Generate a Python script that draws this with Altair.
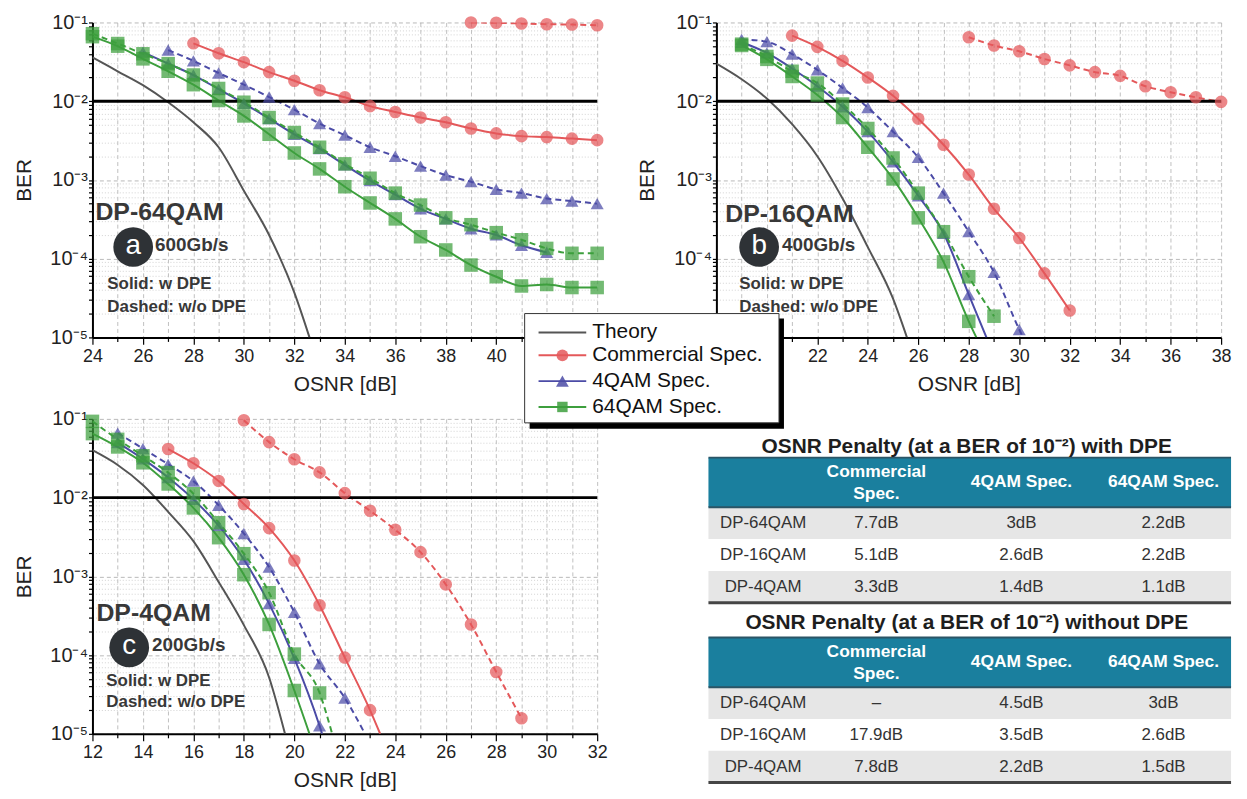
import altair as alt
import pandas as pd

FONT = "Liberation Sans"
SERIES = ["Theory", "Commercial Spec.", "4QAM Spec.", "64QAM Spec."]
COLORS = ["#555555", "#e4585a", "#4b4ba6", "#3d9f3d"]
SHAPES = ["circle", "triangle-up", "square"]
SIZES = [160, 185, 130]

# ---------------- Panel a : DP-64QAM ----------------
A_THEORY_X = [24, 25, 26, 27, 28, 29, 30, 31, 32, 32.6]
A_THEORY_Y = [0.036, 0.024, 0.016, 0.0097, 0.0054, 0.0026, 0.00073, 0.0002, 0.000037, 0.00001]
A_COM_W_X = list(range(28, 45))
A_COM_W_Y = [0.0543, 0.0407, 0.0313, 0.0234, 0.0182, 0.0138, 0.0112, 0.00865, 0.0073, 0.0062,
             0.0054, 0.0045, 0.0039, 0.0036, 0.0035, 0.00335, 0.0032]
A_COM_WO_X = list(range(39, 45))
A_COM_WO_Y = [0.100, 0.099, 0.097, 0.095, 0.094, 0.092]
A_4Q_W_X = list(range(26, 43))
A_4Q_W_Y = [0.042, 0.0300, 0.0215, 0.0142, 0.0094, 0.0060, 0.0038, 0.0025, 0.00155, 0.00098,
            0.00065, 0.00043, 0.00032, 0.00024, 0.00020, 0.000148, 0.00012]
A_4Q_WO_X = list(range(27, 45))
A_4Q_WO_Y = [0.0447, 0.0325, 0.0228, 0.0162, 0.0113, 0.0078, 0.0052, 0.0037, 0.0026, 0.0020,
             0.0015, 0.00115, 0.00095, 0.00076, 0.00068, 0.00058, 0.00054, 0.00050]
A_64Q_W_X = list(range(24, 45))
A_64Q_W_Y = [0.066, 0.050, 0.0345, 0.024, 0.0162, 0.0102, 0.0065, 0.0038, 0.0022, 0.00138,
             0.00082, 0.00051, 0.00032, 0.00019, 0.000129, 0.000083, 0.000059, 0.000045,
             0.000047, 0.000043, 0.000043]
A_64Q_WO_X = list(range(24, 45))
A_64Q_WO_Y = [0.072, 0.054, 0.040, 0.030, 0.0215, 0.0145, 0.0097, 0.0062, 0.0040, 0.0026,
              0.0016, 0.00105, 0.00068, 0.00048, 0.00033, 0.00027, 0.000214, 0.000174,
              0.000135, 0.000117, 0.000117]

# ---------------- Panel b : DP-16QAM ----------------
B_THEORY_X = [18, 19, 20, 21, 22, 23, 24, 25, 25.55]
B_THEORY_Y = [0.030, 0.019, 0.0108, 0.0051, 0.0020, 0.00058, 0.00014, 0.000031, 0.00001]
B_COM_W_X = list(range(21, 33))
B_COM_W_Y = [0.068, 0.049, 0.0325, 0.0200, 0.0117, 0.0060, 0.0028, 0.00117, 0.00043, 0.000183,
             0.000065, 0.000022]
B_COM_WO_X = list(range(28, 39))
B_COM_WO_Y = [0.065, 0.051, 0.043, 0.0344, 0.0285, 0.0234, 0.0210, 0.0155, 0.0130, 0.0112, 0.0098]
B_4Q_W_X = list(range(19, 29))
B_4Q_W_Y = [0.056, 0.041, 0.026, 0.0155, 0.0085, 0.0041, 0.0017, 0.00063, 0.00021, 0.000035]
B_4Q_W_END = (28.7, 0.00001)
B_4Q_WO_X = list(range(19, 31))
B_4Q_WO_Y = [0.061, 0.057, 0.0395, 0.025, 0.0147, 0.0083, 0.0041, 0.00193, 0.00068, 0.00022,
             0.000067, 0.0000126]
B_4Q_WO_END = (30.15, 0.00001)
B_64Q_W_X = list(range(19, 29))
B_64Q_W_Y = [0.051, 0.034, 0.0206, 0.0120, 0.0062, 0.0026, 0.00103, 0.00033, 0.000091, 0.000016]
B_64Q_W_END = (28.3, 0.00001)
B_64Q_WO_X = list(range(19, 30))
B_64Q_WO_Y = [0.053, 0.037, 0.024, 0.017, 0.0092, 0.0045, 0.0019, 0.00068, 0.00022, 0.000059,
              0.0000186]

# ---------------- Panel c : DP-4QAM ----------------
C_THEORY_X = [12, 13, 14, 15, 16, 17, 18, 19, 19.63]
C_THEORY_Y = [0.040, 0.026, 0.0145, 0.0066, 0.0028, 0.00085, 0.00024, 0.000052, 0.00001]
C_COM_W_X = list(range(15, 24))
C_COM_W_Y = [0.0414, 0.0273, 0.0163, 0.0083, 0.0041, 0.00159, 0.00043, 0.000093, 0.00002]
C_COM_W_END = (23.4, 0.00001)
C_COM_WO_X = list(range(18, 30))
C_COM_WO_Y = [0.096, 0.0507, 0.0307, 0.0209, 0.0114, 0.0068, 0.0039, 0.00203, 0.00079, 0.000245,
              0.000061, 0.0000158]
C_4Q_W_X = list(range(13, 22))
C_4Q_W_Y = [0.050, 0.031, 0.018, 0.0095, 0.0044, 0.00164, 0.00045, 0.000091, 0.0000126]
C_4Q_W_END = (21.1, 0.00001)
C_4Q_WO_X = list(range(13, 23))
C_4Q_WO_Y = [0.066, 0.042, 0.0265, 0.0162, 0.0080, 0.0035, 0.00131, 0.00035, 0.0000776, 0.0000285]
C_4Q_WO_END = (22.8, 0.00001)
C_64Q_W_X = list(range(12, 21))
C_64Q_W_Y = [0.065, 0.044, 0.0277, 0.0149, 0.0074, 0.0031, 0.00105, 0.000245, 0.0000355]
C_64Q_W_END = (20.6, 0.00001)
C_64Q_WO_X = list(range(12, 22))
C_64Q_WO_Y = [0.093, 0.055, 0.034, 0.0208, 0.0112, 0.0048, 0.00194, 0.00062, 0.000103, 0.000033]
C_64Q_WO_END = (21.5, 0.00001)

# ---------------- Tables ----------------
TABLE_TITLES = ["OSNR Penalty (at a BER of 10\u207b\u00b2) with DPE",
                "OSNR Penalty (at a BER of 10\u207b\u00b2) without DPE"]
TABLE_HEADER = ["", "Commercial\nSpec.", "4QAM Spec.", "64QAM Spec."]
TABLE_ROWS = ["DP-64QAM", "DP-16QAM", "DP-4QAM"]
WITH_DPE = [["7.7dB", "3dB", "2.2dB"], ["5.1dB", "2.6dB", "2.2dB"], ["3.3dB", "1.4dB", "1.1dB"]]
WITHOUT_DPE = [["\u2013", "4.5dB", "3dB"], ["17.9dB", "3.5dB", "2.6dB"], ["7.8dB", "2.2dB", "1.5dB"]]

PW, PH = 508, 317
ONE = pd.DataFrame({"k": [0]})


def y_enc():
    major = "abs(log(datum.value)/LN10 - round(log(datum.value)/LN10)) < 0.01"
    vals = [k * 10.0 ** e for e in range(-5, -1) for k in range(1, 10)] + [0.1]
    return alt.Y(
        "ber:Q", title="BER",
        scale=alt.Scale(type="log", domain=[1e-5, 1e-1], nice=False),
        axis=alt.Axis(
            values=vals,
            labelExpr=(major + " ? '10\u207b' + ['\u2070','\u00b9','\u00b2','\u00b3','\u2074','\u2075']"
                       "[-round(log(datum.value)/LN10)] : ''"),
            tickSize=4, tickColor="black", tickWidth=1.2,
            domainColor="black", domainWidth=2,
            grid=True,
            gridDash={"condition": {"test": major, "value": [4, 3]}, "value": [1, 2]},
            gridColor={"condition": {"test": major, "value": "#a8a8a8"}, "value": "#c8c8c8"},
            gridWidth=0.8,
            labelFont=FONT, labelFontSize=20, labelColor="#222", labelPadding=1,
            labelOverlap=False, labelFlush=False,
            titleFont=FONT, titleFontSize=21, titleFontWeight="normal", titleColor="#222",
            titlePadding=16,
        ),
    )


def x_enc(xdom):
    return alt.X(
        "x:Q", title="OSNR [dB]",
        scale=alt.Scale(domain=list(xdom), nice=False, zero=False),
        axis=alt.Axis(
            values=list(range(xdom[0], xdom[1] + 1)),
            labelExpr="datum.value % 2 == 0 ? datum.label : ''",
            tickSize={"condition": {"test": "datum.value % 2 == 0", "value": 7}, "value": 4},
            tickColor="black", tickWidth=1.2,
            domainColor="black", domainWidth=2,
            grid=True, gridDash=[4, 3], gridColor="#b0b0b0", gridWidth=0.8,
            labelFont=FONT, labelFontSize=18, labelColor="#222", labelPadding=3,
            labelOverlap=False, labelFlush=False,
            titleFont=FONT, titleFontSize=21, titleFontWeight="normal", titleColor="#222",
            titlePadding=8,
        ),
    )


def panel(xdom, theory, series, ann, with_legend=False):
    line_rows, mark_rows = [], []
    for x, b in zip(*theory):
        line_rows.append(dict(x=x, ber=b, series="Theory", dpe="w", key="Theory"))
    for ser, dpe, xs, ys, end in series:
        key = ser + dpe
        for x, b in zip(xs, ys):
            line_rows.append(dict(x=x, ber=b, series=ser, dpe=dpe, key=key))
            mark_rows.append(dict(x=x, ber=b, series=ser, dpe=dpe, key=key))
        if end is not None:
            line_rows.append(dict(x=end[0], ber=end[1], series=ser, dpe=dpe, key=key))
    ldf = pd.DataFrame(line_rows)
    mdf = pd.DataFrame(mark_rows)
    X, Y = x_enc(xdom), y_enc()
    color = alt.Color("series:N", scale=alt.Scale(domain=SERIES, range=COLORS), legend=None)

    layers = []
    layers.append(alt.Chart(ldf).mark_line(strokeWidth=2, interpolate="monotone", clip=True)
                  .transform_filter("datum.dpe == 'w'")
                  .encode(x=X, y=Y, color=color, detail="key:N", order="x:Q"))
    layers.append(alt.Chart(ldf).mark_line(strokeWidth=2, interpolate="monotone", clip=True,
                                           strokeDash=[6, 4])
                  .transform_filter("datum.dpe == 'wo'")
                  .encode(x=X, y=Y, color=color, detail="key:N", order="x:Q"))
    layers.append(alt.Chart(pd.DataFrame({"ber": [0.01]})).mark_rule(color="black", strokeWidth=3)
                  .encode(y=Y))
    layers.append(alt.Chart(mdf).mark_point(filled=True, opacity=0.72, strokeWidth=0)
                  .encode(x=X, y=Y, color=color,
                          shape=alt.Shape("series:N", scale=alt.Scale(domain=SERIES[1:], range=SHAPES),
                                          legend=None),
                          size=alt.Size("series:N", scale=alt.Scale(domain=SERIES[1:], range=SIZES),
                                        legend=None)))

    def txt(s, xy, size, color="#383838", weight="bold", align="left"):
        return (alt.Chart(ONE)
                .mark_text(align=align, baseline="middle", font=FONT, fontSize=size,
                           fontWeight=weight, color=color)
                .encode(x=alt.value(xy[0]), y=alt.value(xy[1]), text=alt.value(s)))

    layers.append(txt(ann["name"], ann["name_xy"], 25))
    layers.append(alt.Chart(ONE).mark_point(filled=True, shape="circle", size=1600, color="#2e3236",
                                             opacity=1)
                  .encode(x=alt.value(ann["circ_xy"][0]), y=alt.value(ann["circ_xy"][1])))
    layers.append(txt(ann["letter"], (ann["circ_xy"][0], ann["circ_xy"][1] - 1), 28, color="white",
                      weight="normal", align="center"))
    layers.append(txt(ann["rate"], ann["rate_xy"], 19))
    layers.append(txt("Solid: w DPE", ann["solid_xy"], 17))
    layers.append(txt("Dashed: w/o DPE", ann["dash_xy"], 17))

    if with_legend:
        bx0, bx1, by0, by1 = 435, 691, -106, 4
        layers.append(alt.Chart(ONE).mark_rect(color="black")
                      .encode(x=alt.value(bx0 + 5), x2=alt.value(bx1 + 5),
                              y=alt.value(by0 + 5), y2=alt.value(by1 + 6)))
        layers.append(alt.Chart(ONE).mark_rect(color="white", stroke="#333", strokeWidth=1)
                      .encode(x=alt.value(bx0), x2=alt.value(bx1), y=alt.value(by0), y2=alt.value(by1)))
        rows_y = [-87, -64, -38, -12]
        for i, name in enumerate(SERIES):
            ry = rows_y[i]
            layers.append(alt.Chart(ONE).mark_rule(color=COLORS[i], strokeWidth=2)
                          .encode(x=alt.value(449), x2=alt.value(497), y=alt.value(ry)))
            if i > 0:
                layers.append(alt.Chart(ONE).mark_point(filled=True, shape=SHAPES[i - 1],
                                                         size=SIZES[i - 1] - 20,
                                                         color=COLORS[i], opacity=0.85, strokeWidth=0)
                              .encode(x=alt.value(473), y=alt.value(ry)))
            layers.append(txt(name, (503, ry), 21, color="#111", weight="normal"))

    return alt.layer(*layers).properties(width=PW, height=PH)


pa = panel((24, 44), (A_THEORY_X, A_THEORY_Y), [
    ("Commercial Spec.", "w", A_COM_W_X, A_COM_W_Y, None),
    ("Commercial Spec.", "wo", A_COM_WO_X, A_COM_WO_Y, None),
    ("4QAM Spec.", "w", A_4Q_W_X, A_4Q_W_Y, None),
    ("4QAM Spec.", "wo", A_4Q_WO_X, A_4Q_WO_Y, None),
    ("64QAM Spec.", "w", A_64Q_W_X, A_64Q_W_Y, None),
    ("64QAM Spec.", "wo", A_64Q_WO_X, A_64Q_WO_Y, None),
], dict(name="DP-64QAM", letter="a", rate="600Gb/s", name_xy=(3, 191), circ_xy=(41, 226),
        rate_xy=(63, 224), solid_xy=(15, 263), dash_xy=(15, 286)))

pb = panel((18, 38), (B_THEORY_X, B_THEORY_Y), [
    ("Commercial Spec.", "w", B_COM_W_X, B_COM_W_Y, None),
    ("Commercial Spec.", "wo", B_COM_WO_X, B_COM_WO_Y, None),
    ("4QAM Spec.", "w", B_4Q_W_X, B_4Q_W_Y, B_4Q_W_END),
    ("4QAM Spec.", "wo", B_4Q_WO_X, B_4Q_WO_Y, B_4Q_WO_END),
    ("64QAM Spec.", "w", B_64Q_W_X, B_64Q_W_Y, B_64Q_W_END),
    ("64QAM Spec.", "wo", B_64Q_WO_X, B_64Q_WO_Y, None),
], dict(name="DP-16QAM", letter="b", rate="400Gb/s", name_xy=(9, 193), circ_xy=(43, 226),
        rate_xy=(66, 224), solid_xy=(23, 263), dash_xy=(23, 286)))

pc = panel((12, 32), (C_THEORY_X, C_THEORY_Y), [
    ("Commercial Spec.", "w", C_COM_W_X, C_COM_W_Y, C_COM_W_END),
    ("Commercial Spec.", "wo", C_COM_WO_X, C_COM_WO_Y, None),
    ("4QAM Spec.", "w", C_4Q_W_X, C_4Q_W_Y, C_4Q_W_END),
    ("4QAM Spec.", "wo", C_4Q_WO_X, C_4Q_WO_Y, C_4Q_WO_END),
    ("64QAM Spec.", "w", C_64Q_W_X, C_64Q_W_Y, C_64Q_W_END),
    ("64QAM Spec.", "wo", C_64Q_WO_X, C_64Q_WO_Y, C_64Q_WO_END),
], dict(name="DP-4QAM", letter="c", rate="200Gb/s", name_xy=(4, 195), circ_xy=(37, 230),
        rate_xy=(60, 228), solid_xy=(14, 264), dash_xy=(14, 285)), with_legend=True)

# ---------------- Table chart ----------------
TW, TH = 526, 371
TLEFT = 8  # the table begins this far left of panel b's column
COL_X = [55, 169, 315, 458]
BLOCK_TOP = [0, 181]
rects, texts_body, texts_head, texts_title, lines_thin, lines_thick = [], [], [], [], [], []
for bi, (title, vals) in enumerate(zip(TABLE_TITLES, [WITH_DPE, WITHOUT_DPE])):
    top = BLOCK_TOP[bi]
    texts_title.append(dict(x=TW / 2 - 3, y=top + (28 if bi == 0 else 24), t=title))
    rects.append(dict(x0=0, x1=TW, y0=top + 39, y1=top + 89, fill="#1a7f9e"))
    lines_thin.append(dict(x0=0, x1=TW, y=top + 39))
    lines_thin.append(dict(x0=0, x1=TW, y=top + 89))
    for ci, h in enumerate(TABLE_HEADER):
        texts_head.append(dict(x=COL_X[ci], y=top + (54 if "\n" in h else 64), t=h))
    for ri, rname in enumerate(TABLE_ROWS):
        y0 = top + 89 + 32 * ri
        rects.append(dict(x0=0, x1=TW, y0=y0, y1=y0 + 32, fill="#e6e6e6" if ri % 2 == 0 else "#ffffff"))
        cells = [rname] + vals[ri]
        for ci, c in enumerate(cells):
            texts_body.append(dict(x=COL_X[ci], y=y0 + 16, t=c))
    lines_thick.append(dict(x0=0, x1=TW, y=top + 185))

TXS = alt.Scale(domain=[TLEFT, TW + TLEFT], nice=False, zero=False)
TYS = alt.Scale(domain=[0, TH], nice=False, zero=False, reverse=True)
tx = lambda f: alt.X(f, scale=TXS, axis=None)
ty = lambda f: alt.Y(f, scale=TYS, axis=None)

table = alt.layer(
    alt.Chart(pd.DataFrame(rects)).mark_rect().encode(
        x=tx("x0:Q"), x2="x1:Q", y=ty("y0:Q"), y2="y1:Q", color=alt.Color("fill:N", scale=None)),
    alt.Chart(pd.DataFrame(lines_thin)).mark_rule(color="#2b5566", strokeWidth=2).encode(
        x=tx("x0:Q"), x2="x1:Q", y=ty("y:Q")),
    alt.Chart(pd.DataFrame(lines_thick)).mark_rule(color="#454545", strokeWidth=3).encode(
        x=tx("x0:Q"), x2="x1:Q", y=ty("y:Q")),
    alt.Chart(pd.DataFrame(texts_title)).mark_text(font=FONT, fontSize=21, fontWeight="bold",
                                                     color="#1e1e1e", baseline="middle").encode(
        x=tx("x:Q"), y=ty("y:Q"), text="t:N"),
    alt.Chart(pd.DataFrame(texts_head)).mark_text(font=FONT, fontSize=17.5, fontWeight="bold",
                                                    color="white", baseline="middle", lineBreak="\n",
                                                    lineHeight=22).encode(
        x=tx("x:Q"), y=ty("y:Q"), text="t:N"),
    alt.Chart(pd.DataFrame(texts_body)).mark_text(font=FONT, fontSize=17, color="#333",
                                                    baseline="middle").encode(
        x=tx("x:Q"), y=ty("y:Q"), text="t:N"),
).properties(width=TW, height=TH)

chart = (alt.concat(pa, pb, pc, table, columns=2, bounds="flush",
                    spacing={"row": 82, "column": 120})
         .resolve_scale(x="independent", y="independent")
         .properties(padding={"left": 5, "top": 2, "right": 0, "bottom": 0}, background="white")
         .configure_view(strokeWidth=0))

chart.save("out.html", embed_options={"renderer": "svg", "actions": False})
